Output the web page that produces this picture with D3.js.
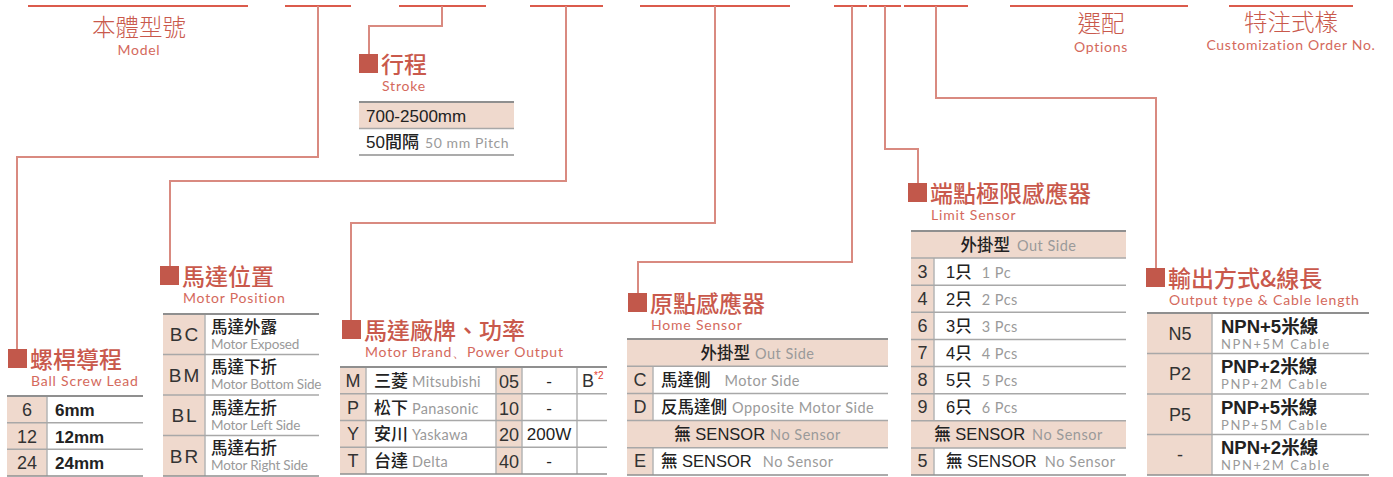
<!DOCTYPE html>
<html><head><meta charset="utf-8">
<script src="https://cdn.jsdelivr.net/npm/d3@7/dist/d3.min.js"></script>
<style>
html,body{margin:0;padding:0;background:#fff;}
svg{display:block;}
</style></head>
<body>
<svg id="c" width="1393" height="477"></svg>
<script>
// ---------- DATA ----------
const topLabels = [
  {zh:"本體型號", en:"Model"},
  {zh:"選配", en:"Options"},
  {zh:"特注式樣", en:"Customization Order No."}
];
const strokeTitle = {zh:"行程", en:"Stroke"};
const strokeRows = [["700-2500mm",""],["50間隔","50 mm Pitch"]];

const leadTitle = {zh:"螺桿導程", en:"Ball Screw Lead"};
const leadCodes = ["6","12","24"];
const leadDesc = ["6mm","12mm","24mm"];

const posTitle = {zh:"馬達位置", en:"Motor Position"};
const posCodes = ["BC","BM","BL","BR"];
const posZh = ["馬達外露","馬達下折","馬達左折","馬達右折"];
const posEn = ["Motor Exposed","Motor Bottom Side","Motor Left Side","Motor Right Side"];

const brandTitle = {zh:"馬達廠牌、功率", en:"Motor Brand、Power Output"};
const brandCodes = ["M","P","Y","T"];
const brandZh = ["三菱","松下","安川","台達"];
const brandEn = ["Mitsubishi","Panasonic","Yaskawa","Delta"];
const powerCodes = ["05","10","20","40"];
const powerVals = ["-","-","200W","-"];
const extraVals = ["B","","",""];
const extraNote = "*2";

const homeTitle = {zh:"原點感應器", en:"Home Sensor"};
const homeRows = [
  {hdr:true, zh:"外掛型", en:"Out Side"},
  {code:"C", zh:"馬達側", en:"Motor Side"},
  {code:"D", zh:"反馬達側", en:"Opposite Motor Side"},
  {hdr:true, zh:"無 SENSOR", en:"No Sensor"},
  {code:"E", zh:"無 SENSOR", en:"No Sensor"}
];

const limitTitle = {zh:"端點極限感應器", en:"Limit Sensor"};
const limitRows = [
  {hdr:true, zh:"外掛型", en:"Out Side"},
  {code:"3", zh:"1只", en:"1 Pc"},
  {code:"4", zh:"2只", en:"2 Pcs"},
  {code:"6", zh:"3只", en:"3 Pcs"},
  {code:"7", zh:"4只", en:"4 Pcs"},
  {code:"8", zh:"5只", en:"5 Pcs"},
  {code:"9", zh:"6只", en:"6 Pcs"},
  {hdr:true, zh:"無 SENSOR", en:"No Sensor"},
  {code:"5", zh:"無 SENSOR", en:"No Sensor"}
];

const outTitle = {zh:"輸出方式&線長", en:"Output type & Cable length"};
const outCodes = ["N5","P2","P5","-"];
const outZh = ["NPN+5米線","PNP+2米線","PNP+5米線","NPN+2米線"];
const outEn = ["NPN+5M Cable","PNP+2M Cable","PNP+5M Cable","NPN+2M Cable"];

// ---------- STYLE ----------
const C = {
  top:"#db5b4c", conn:"#d98a80", sq:"#c2584b", title:"#c9594c", sub:"#d4695c",
  peach:"#efd9cd", vline:"#b5b5b5", dark:"#222", gray:"#9a9a9a"
};
const FZH = "'Noto Sans CJK TC','Noto Sans CJK SC',sans-serif";
const FEN = "'Lato','Noto Sans',sans-serif";
const FAR = "'Liberation Sans','Noto Sans CJK TC',sans-serif";

const svg = d3.select("#c");
const gLines = svg.append("g");
const gTables = svg.append("g");
const gText = svg.append("g");

// ---------- TOP SEGMENTS & CONNECTORS ----------
const segs = [[28,248],[285,351],[399,486],[530,603],[640,790],[834,867],[869,901],[904,968],[1010,1188],[1229,1353]];
gLines.selectAll("line.seg").data(segs).join("line")
  .attr("x1",d=>d[0]).attr("x2",d=>d[1]).attr("y1",6).attr("y2",6)
  .attr("stroke",C.top).attr("stroke-width",2);

const conns = [
  [[318,6],[318,157],[17,157],[17,350]],
  [[442,6],[442,26],[369,26],[369,55]],
  [[566,6],[566,181],[170,181],[170,267]],
  [[715,6],[715,223],[351,223],[351,321]],
  [[852,6],[852,262],[638,262],[638,293]],
  [[885,6],[885,149],[918,149],[918,183]],
  [[936,6],[936,98],[1156,98],[1156,268]]
];
const line = d3.line();
gLines.selectAll("path.conn").data(conns).join("path")
  .attr("d",line).attr("fill","none").attr("stroke",C.conn).attr("stroke-width",2);

// top labels
const topPos = [[139,36,55],[1101,32,52],[1291,31,50]];
topLabels.forEach((t,i)=>{
  const [x,y1,y2]=topPos[i];
  gText.append("text").attr("x",x).attr("y",y1).attr("text-anchor","middle")
    .attr("font-family",FZH).attr("font-size",23.5).attr("font-weight",300).attr("fill",C.title).text(t.zh);
  gText.append("text").attr("x",x).attr("y",y2).attr("text-anchor","middle")
    .attr("font-family",FEN).attr("font-size",14).attr("letter-spacing",0.7).attr("fill",C.sub).text(t.en);
});

// ---------- SECTION HEADERS ----------
function header(t, sx, sy){
  gText.append("rect").attr("x",sx).attr("y",sy).attr("width",19).attr("height",19).attr("fill",C.sq);
  gText.append("text").attr("x",sx+22).attr("y",sy+18.5).attr("font-family",FZH)
    .attr("font-size",23).attr("font-weight",500).attr("fill",C.title).text(t.zh);
  gText.append("text").attr("x",sx+23).attr("y",sy+37).attr("font-family",FEN)
    .attr("font-size",14).attr("letter-spacing",0.8).attr("fill",C.sub).text(t.en);
}
header(strokeTitle,359,54);
header(leadTitle,8,349);
header(posTitle,160,266);
header(brandTitle,342,320);
header(homeTitle,628,293);
header(limitTitle,908,183);
header(outTitle,1146,268);

// ---------- TABLE HELPERS ----------
function rowScale(n, top, bottom){
  return d3.scaleBand().domain(d3.range(n)).range([top,bottom]).paddingInner(0).paddingOuter(0);
}
function hlines(g, y, x0, x1, n){
  const ys = d3.range(n+1).map(i=>y.range()[0]+i*y.bandwidth());
  g.selectAll(null).data(ys).join("line")
    .attr("x1",x0).attr("x2",x1).attr("y1",d=>d).attr("y2",d=>d)
    .attr("stroke",(d,i)=> (i===0||i===n)?"#8f8f8f":"#a8a8a8").attr("stroke-width",(d,i)=>(i===0)?2:1.5);
}
function fillCol(g, y, rows, x0, x1, pred){
  g.selectAll(null).data(rows.map((r,i)=>i).filter(i=>pred? pred(i):true)).join("rect")
    .attr("x",x0).attr("width",x1-x0).attr("y",i=>y(i)).attr("height",y.bandwidth()).attr("fill",C.peach);
}
function vline(g, x, y0, y1){
  g.append("line").attr("x1",x).attr("x2",x).attr("y1",y0).attr("y2",y1).attr("stroke",C.vline).attr("stroke-width",1.5);
}
function txt(g, x, y, s, o){
  o=o||{};
  return g.append("text").attr("x",x).attr("y",y).attr("text-anchor",o.anchor||"start")
    .attr("font-family",o.font||FAR).attr("font-size",o.size||15).attr("font-weight",o.weight||400)
    .attr("fill",o.fill||C.dark).attr("letter-spacing",o.ls||0).text(s);
}
function zhEn(g, x, y, zh, en, o){
  o=o||{};
  const t = g.append("text").attr("x",x).attr("y",y).attr("text-anchor",o.anchor||"start");
  t.append("tspan").attr("font-family",o.font||FAR).attr("font-size",o.size||16).attr("font-weight",o.weight||500).attr("fill",C.dark).text(zh);
  t.append("tspan").attr("dx",o.gap||5).attr("font-family",FEN).attr("font-size",o.esize||14)
    .attr("letter-spacing",o.els==null?0.5:o.els).attr("fill",C.gray).text(en);
  return t;
}

// ---------- STROKE ----------
{
  const g = gTables.append("g");
  const y = rowScale(strokeRows.length,102,155);
  fillCol(g,y,strokeRows,359,514,i=>i===0);
  hlines(g,y,359,514,strokeRows.length);
  txt(g,366,y(0)+19.5,strokeRows[0][0],{size:17});
  zhEn(g,366,y(1)+19.5,strokeRows[1][0],strokeRows[1][1],{size:17,weight:500,esize:14,gap:6,els:0.6});
}
// ---------- LEAD ----------
{
  const g = gTables.append("g");
  const y = rowScale(leadCodes.length,396,476);
  fillCol(g,y,leadCodes,7,47);
  vline(g,47,396,476);
  hlines(g,y,7,143,leadCodes.length);
  leadCodes.forEach((c,i)=>{
    txt(g,27,y(i)+y.bandwidth()/2+6.5,c,{size:18,anchor:"middle",fill:"#333"});
    txt(g,55,y(i)+y.bandwidth()/2+6.5,leadDesc[i],{size:17,weight:700,fill:"#222"});
  });
}
// ---------- MOTOR POSITION ----------
{
  const g = gTables.append("g");
  const y = rowScale(posCodes.length,314,476);
  fillCol(g,y,posCodes,163,205);
  vline(g,205,314,476);
  hlines(g,y,163,319,posCodes.length);
  posCodes.forEach((c,i)=>{
    txt(g,185,y(i)+y.bandwidth()/2+7,c,{size:19,anchor:"middle",fill:"#333",ls:2});
    txt(g,211,y(i)+18.5,posZh[i],{font:FZH,size:16.5,weight:500});
    txt(g,211,y(i)+34.5,posEn[i],{font:FEN,size:13.5,fill:C.gray,ls:-0.2});
  });
}
// ---------- BRAND ----------
{
  const g = gTables.append("g");
  const y = rowScale(brandCodes.length,367,474);
  fillCol(g,y,brandCodes,340,366);
  fillCol(g,y,brandCodes,496,522);
  [366,496,522,577].forEach(x=>vline(g,x,367,474));
  hlines(g,y,340,607,brandCodes.length);
  brandCodes.forEach((c,i)=>{
    const cy=y(i)+y.bandwidth()/2+6.5;
    txt(g,353,cy,c,{size:18,anchor:"middle",fill:"#333"});
    zhEn(g,374,cy,brandZh[i],brandEn[i],{font:FZH,size:17,weight:500,esize:14.5,gap:4,els:0.3});
    txt(g,509,cy+1,powerCodes[i],{size:18,anchor:"middle",fill:"#333"});
    txt(g,549,cy,powerVals[i],{size:17,weight:500,anchor:"middle",fill:"#222"});
    if(extraVals[i]){
      const t=g.append("text").attr("x",582).attr("y",cy);
      t.append("tspan").attr("font-family",FAR).attr("font-size",18).attr("fill","#333").text(extraVals[i]);
      t.append("tspan").attr("dy",-8).attr("font-family",FAR).attr("font-size",10).attr("fill","#e23b2e").text(extraNote);
    }
  });
}
// ---------- SENSOR TABLES ----------
function sensorTable(rows, x0, x1, xd, top, bottom, textX, gaps, hdrGap){
  const g = gTables.append("g");
  const y = rowScale(rows.length,top,bottom);
  rows.forEach((r,i)=>{
    if(r.hdr) g.append("rect").attr("x",x0).attr("width",x1-x0).attr("y",y(i)).attr("height",y.bandwidth()).attr("fill",C.peach);
    else {
      g.append("rect").attr("x",x0).attr("width",xd-x0).attr("y",y(i)).attr("height",y.bandwidth()).attr("fill",C.peach);
      vline(g,xd,y(i),y(i)+y.bandwidth());
    }
  });
  hlines(g,y,x0,x1,rows.length);
  rows.forEach((r,i)=>{
    const cy=y(i)+y.bandwidth()/2+6;
    if(r.hdr){
      zhEn(g,(x0+x1)/2,cy,r.zh,r.en,{anchor:"middle",size:16.5,weight:500,esize:14.5,gap:hdrGap});
    } else {
      txt(g,(x0+xd)/2,cy,r.code,{size:18,anchor:"middle",fill:"#333"});
      zhEn(g,textX,cy,r.zh,r.en,{size:16.5,weight:500,esize:14.5,gap:gaps[i]||10});
    }
  });
}
sensorTable(homeRows,627,888,653,339,475,661,{1:14,2:5,4:11},5);
sensorTable(limitRows,911,1126,934,231,475,946,{1:10,2:10,3:10,4:10,5:10,6:10,8:8},7);

// ---------- OUTPUT ----------
{
  const g = gTables.append("g");
  const y = rowScale(outCodes.length,313,475);
  fillCol(g,y,outCodes,1147,1212);
  vline(g,1212,313,475);
  hlines(g,y,1147,1369,outCodes.length);
  outCodes.forEach((c,i)=>{
    txt(g,1180,y(i)+y.bandwidth()/2+6.5,c,{size:18,anchor:"middle",fill:"#333"});
    txt(g,1221,y(i)+19.5,outZh[i],{size:18.5,weight:700,fill:"#222"});
    txt(g,1221,y(i)+35.5,outEn[i],{font:FEN,size:13,fill:C.gray,ls:1.6});
  });
}
</script>
</body></html>
